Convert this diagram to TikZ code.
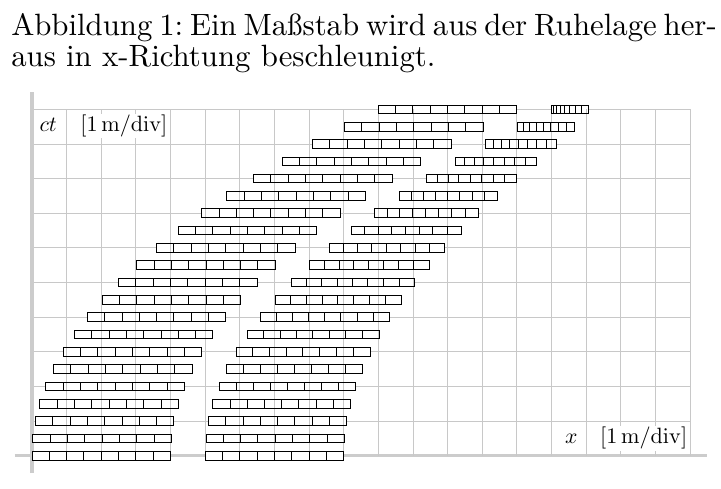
\documentclass[tikz,border=0pt]{standalone}
\usepackage{graphicx}
\pgfdeclarelayer{hgrid}
\pgfdeclarelayer{rfill}
\pgfdeclarelayer{vgrid}
\pgfsetlayers{hgrid,rfill,vgrid,main}
\definecolor{gridgray}{RGB}{200,200,200}
\definecolor{axisgray}{RGB}{204,204,204}
\newcommand{\unitlbl}{\scalebox{1.82}{$[1\,\mathrm{m}/\mathrm{div}]$}}
\tikzset{
  gridline/.style={draw=gridgray, line width=0.7pt},
  axisline/.style={draw=axisgray, line width=2.8pt},
  cellbox/.style={draw=black, line width=0.8pt},
  cellfill/.style={fill=white},
  axislabel/.style={inner xsep=0pt, inner ysep=1pt, anchor=base west},
  unitlabel/.style={axislabel, fill=white},
  titleline/.style={inner sep=0pt, anchor=base west},
}
\begin{document}
\frenchspacing
\begin{tikzpicture}
\useasboundingbox (-0.924,-0.933) rectangle (19.896,13.159);
% grid and axes
\begin{pgfonlayer}{hgrid}
  \foreach \j in {1,...,10} \draw[gridline] (0,\j) -- (19,\j);
  \draw[axisline] (-0.5,0) -- (19.5,0);
  \draw[axisline] (0,-0.5) -- (0,10.5);
\end{pgfonlayer}
\begin{pgfonlayer}{vgrid}
  \foreach \i in {1,...,19} \draw[gridline] (\i,0) -- (\i,10);
\end{pgfonlayer}
% rulers
\foreach \n in {0,...,20}{
  \pgfmathsetmacro\tm{\n/2}
  \pgfmathsetmacro\xa{\tm*\tm/10}
  \begin{pgfonlayer}{rfill}
    \fill[cellfill] (\xa,\tm-0.125) rectangle ++(4,0.25);
  \end{pgfonlayer}
  \draw[cellbox] (\xa,\tm-0.125) rectangle ++(4,0.25);
  \foreach \k in {1,...,7} \draw[cellbox] (\xa+0.5*\k,\tm-0.125) -- ++(0,0.25);
  \pgfmathsetmacro\xb{5+\xa}
  \xdef\cur{\xb}
  \foreach \k in {0,...,7}{
    \pgfmathsetmacro\bet{max(\tm-0.1*(\k+0.5),0)/10}
    \pgfmathsetmacro\nxt{\cur+0.5*sqrt(1-\bet*\bet)}
    \begin{pgfonlayer}{rfill}
      \fill[cellfill] (\cur,\tm-0.125) rectangle (\nxt,\tm+0.125);
    \end{pgfonlayer}
    \draw[cellbox] (\cur,\tm-0.125) rectangle (\nxt,\tm+0.125);
    \xdef\cur{\nxt}
  }
}
% axis labels
\node[axislabel] (ctsym) at (0.21,9.36) {\scalebox{1.78}{$ct$}};
\node[unitlabel] (ctunit) at (1.39,9.36) {\unitlbl};
\node[axislabel] (xsym) at (15.39,0.338) {\scalebox{1.78}{$x$}};
\node[unitlabel] (xunit) at (16.40,0.338) {\unitlbl};
% title
\node[titleline] (title1) at (-0.606,12.148) {\scalebox{2.53}{\hbox to 223.8pt{Abbildung 1: Ein Ma\ss stab wird aus der Ruhelage her-}}};
\node[titleline] (title2) at (-0.606,11.253) {\scalebox{2.53}{aus in x-Richtung beschleunigt.}};
\end{tikzpicture}
\end{document}
